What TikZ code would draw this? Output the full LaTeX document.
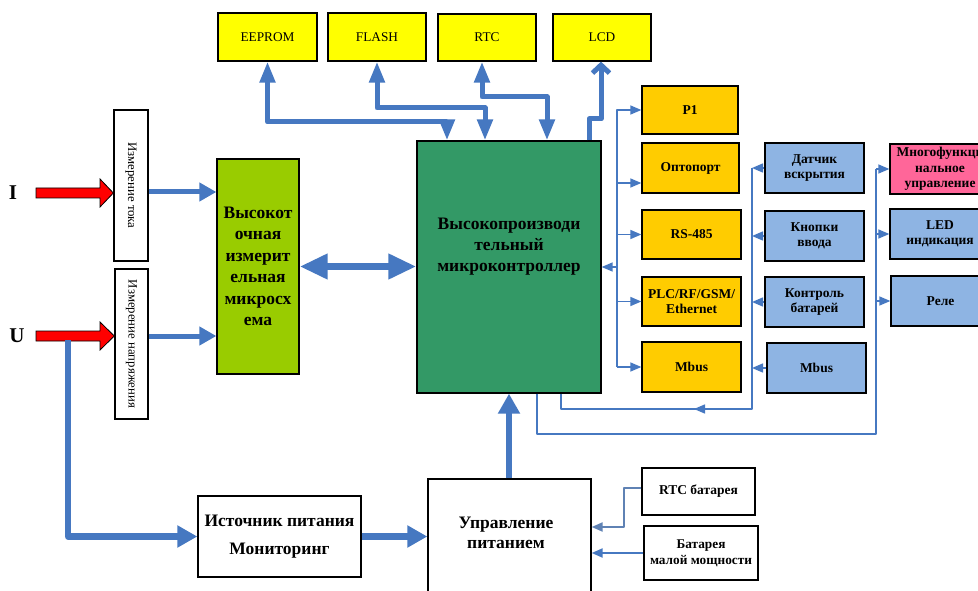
\documentclass[tikz,border=0pt]{standalone}
\usepackage{fontspec}
\setmainfont{Liberation Serif}
\usetikzlibrary{arrows.meta,calc}
\definecolor{lineblue}{RGB}{70,120,193}
\definecolor{lineblue2}{RGB}{95,130,180}
\definecolor{ytop}{RGB}{255,255,0}
\definecolor{yor}{RGB}{255,204,0}
\definecolor{lblue}{RGB}{142,180,227}
\definecolor{mcugreen}{RGB}{51,153,102}
\definecolor{lgreen}{RGB}{153,204,0}
\definecolor{pinkbox}{RGB}{255,102,153}
\tikzset{
  box/.style={draw=black, line width=1.3pt, inner sep=1pt, align=center},
  sz/.style 2 args={minimum width=#1pt, minimum height=#2pt},
  bigtxt/.style={font=\fontsize{17.5}{21}\selectfont\bfseries},
  midtxt/.style={font=\fontsize{13.5}{15.5}\selectfont\bfseries},
  regtxt/.style={font=\fontsize{13.3}{15}\selectfont},
  rottxt/.style={font=\fontsize{12.8}{14}\selectfont},
  thkd/.style={draw=lineblue, line width=5pt, line join=round,
    {Triangle[length=21pt,width=15pt]}-{Triangle[length=21pt,width=15pt]}},
  thk/.style={draw=lineblue, line width=5pt, line join=round,
    -{Triangle[length=17pt,width=18pt]}},
  thkb/.style={draw=lineblue, line width=6.5pt, line join=round,
    -{Triangle[length=20pt,width=21pt]}},
  thkdd/.style={draw=lineblue, line width=7.5pt,
    {Triangle[length=28pt,width=24pt]}-{Triangle[length=28pt,width=24pt]}},
  thinl/.style={draw=lineblue, line width=1.5pt, line join=round},
  thinarr/.style={thinl, -{Triangle[length=11pt,width=9pt]}},
  redarr/.style={fill=red, draw=black, line width=0.8pt, line join=miter},
}
\begin{document}
\begin{tikzpicture}[x=1pt,y=-1pt]
\useasboundingbox (0,0) rectangle (978,591);
\fill[white] (0,0) rectangle (978,591);
\clip (0,0) rectangle (978,591);

% top memory boxes
\node[box, fill=ytop, sz={99}{48}, regtxt] (eeprom) at (267.5,37) {EEPROM};
\node[box, fill=ytop, sz={98}{48}, regtxt] (flash) at (377,37) {FLASH};
\node[box, fill=ytop, sz={98}{47}, regtxt] (rtc) at (487,37.5) {RTC};
\node[box, fill=ytop, sz={98}{47}, regtxt] (lcd) at (602,37.5) {LCD};

% MCU
\node[box, fill=mcugreen, sz={184}{252}] (mcu) at (509,267) {};
\node[bigtxt, align=center, inner sep=0pt] (mcutxt) at (509,247)
  {Высокопроизводи\\тельный\\микроконтроллер};

% measurement
\node[box, fill=white, rotate=-90, sz={151}{34}, rottxt] (itok) at (131,185.5) {Измерение тока};
\node[box, fill=white, rotate=-90, sz={150}{33}, rottxt] (unapr) at (131.5,344) {Измерение напряжения};
\node[box, fill=lgreen, sz={82}{215}, font=\fontsize{17.5}{21.5}\selectfont\bfseries]
  (meas) at (258,266.5) {Высокот\\очная\\измерит\\ельная\\микросх\\ема};

\node[font=\fontsize{21}{21}\selectfont\bfseries, inner sep=0pt] (ilab) at (13,193) {I};
\node[font=\fontsize{21}{21}\selectfont\bfseries, inner sep=0pt] (ulab) at (17,336) {U};

% red input arrows (tips on the left side of the rotated boxes = their south anchor)
\draw[redarr] (36,188) -- (100,188) -- (100,179) -- (itok.south |- 0,193) -- (100,207) -- (100,198) -- (36,198) -- cycle;
\draw[redarr] (36,331) -- (100,331) -- (100,322) -- (unapr.south |- 0,336) -- (100,350) -- (100,341) -- (36,341) -- cycle;

% interface boxes (yellow-orange)
\node[box, fill=yor, sz={96}{48}, midtxt] (p1) at (690,110) {P1};
\node[box, fill=yor, sz={97}{50}, midtxt] (opto) at (690.5,168) {Оптопорт};
\node[box, fill=yor, sz={99}{49}, midtxt] (rs) at (691.5,234.5) {RS-485};
\node[box, fill=yor, sz={99}{49}, midtxt] (plc) at (691.5,301.5) {PLC/RF/GSM/\\Ethernet};
\node[box, fill=yor, sz={99}{50}, midtxt] (mbusy) at (691.5,367) {Mbus};

% blue input boxes
\node[box, fill=lblue, sz={99}{50}, midtxt] (datchik) at (814.5,168) {Датчик\\вскрытия};
\node[box, fill=lblue, sz={99}{50}, midtxt] (knopki) at (814.5,236) {Кнопки\\ввода};
\node[box, fill=lblue, sz={99}{50}, midtxt] (kontrol) at (814.5,302) {Контроль\\батарей};
\node[box, fill=lblue, sz={99}{50}, midtxt] (mbusb) at (816.5,368) {Mbus};

% output boxes
\node[box, fill=pinkbox, sz={100}{50}, midtxt] (multi) at (940,169) {Многофункци\\нальное\\управление};
\node[box, fill=lblue, sz={100}{50}, midtxt] (led) at (940,234) {LED\\индикация};
\node[box, fill=lblue, sz={99}{50}, midtxt] (rele) at (940.5,301) {Реле};

% power
\node[box, fill=white, sz={163}{81}, font=\fontsize{17.5}{28}\selectfont\bfseries] (ist) at (279.5,536.5) {Источник питания\\Мониторинг};
\node[box, fill=white, sz={163}{115}, bigtxt] (upr) at (509.5,536.5) {};
\node[bigtxt, align=center, inner sep=0pt, font=\fontsize{17.5}{19.5}\selectfont\bfseries] (uprtxt) at (506,533) {Управление\\питанием};
\node[box, fill=white, sz={113}{47}, midtxt] (rtcbat) at (698.5,491.5) {RTC батарея};
\node[box, fill=white, sz={114}{54}, font=\fontsize{13.3}{16}\selectfont\bfseries] (batmal) at (701,553) {Батарея\\малой мощности};

% memory connectors
\draw[thkd] (eeprom.south) |- (447,122) -- (447,122 |- mcu.north);
\draw[thkd] (flash.south) |- (485,108) -- (485,108 |- mcu.north);
\draw[thkd] (482,0 |- rtc.south) |- (547,97) -- (547,97 |- mcu.north);
\draw[draw=lineblue, line width=5pt, line join=round, -{Straight Barb[length=8pt,width=17pt]}]
  (589,0 |- mcu.north) |- (601,119) -- (601,0 |- lcd.south);

% measurement connectors (right side of rotated boxes = north anchor)
\draw[thk] (itok.north |- 0,192) -- (meas.west |- 0,192);
\draw[thk] (unapr.north |- 0,336) -- (meas.west |- 0,336);
\draw[thkdd] (meas.east) -- (mcu.west |- meas.east);

% power connectors
\coordinate (utap) at (68,340);
\draw[thkb] (utap) |- (ist.west);
\draw[thkb] (ist.east) -- (upr.west |- ist.east);
\draw[thkb] (upr.north -| 509,0) -- (509,0 |- mcu.south);
\draw[thinarr, draw=lineblue2, line width=2pt] (rtcbat.west |- 0,488) -| (624,527) -- (upr.east |- 0,527);
\draw[thinarr, line width=2pt] (batmal.west) -- (upr.east |- batmal.west);

% interface bus
\coordinate (bustop) at (617,110);
\coordinate (busbot) at (617,367);
\draw[thinarr] (busbot) |- (p1.west);
\draw[thinarr] (617,183) -- (opto.west |- 0,183);
\draw[thinarr] (617,0 |- rs.west) -- (rs.west);
\draw[thinarr] (617,0 |- plc.west) -- (plc.west);
\draw[thinarr] (busbot) -- (mbusy.west);
\draw[thinarr] (617,0 |- mcu.east) -- (mcu.east);

% input bus
\coordinate (c2top) at (752,168);
\coordinate (c2bot) at (752,409);
\draw[thinl] (c2top) -- (c2bot) -| (561,0 |- mcu.south);
\draw[thinarr] (c2bot) -- (694,409);
\draw[thinarr] (datchik.west) -- (c2top);
\draw[thinarr] (knopki.west) -- (752,0 |- knopki.west);
\draw[thinarr] (kontrol.west) -- (752,0 |- kontrol.west);
\draw[thinarr] (mbusb.west) -- (752,0 |- mbusb.west);

% output bus
\coordinate (c3top) at (876,169);
\coordinate (c3bot) at (876,434);
\draw[thinl] (537,0 |- mcu.south) |- (c3bot) -- (c3top);
\draw[thinarr] (c3top) -- (multi.west);
\draw[thinarr] (876,0 |- led.west) -- (led.west);
\draw[thinarr] (876,0 |- rele.west) -- (rele.west);
\end{tikzpicture}
\end{document}
